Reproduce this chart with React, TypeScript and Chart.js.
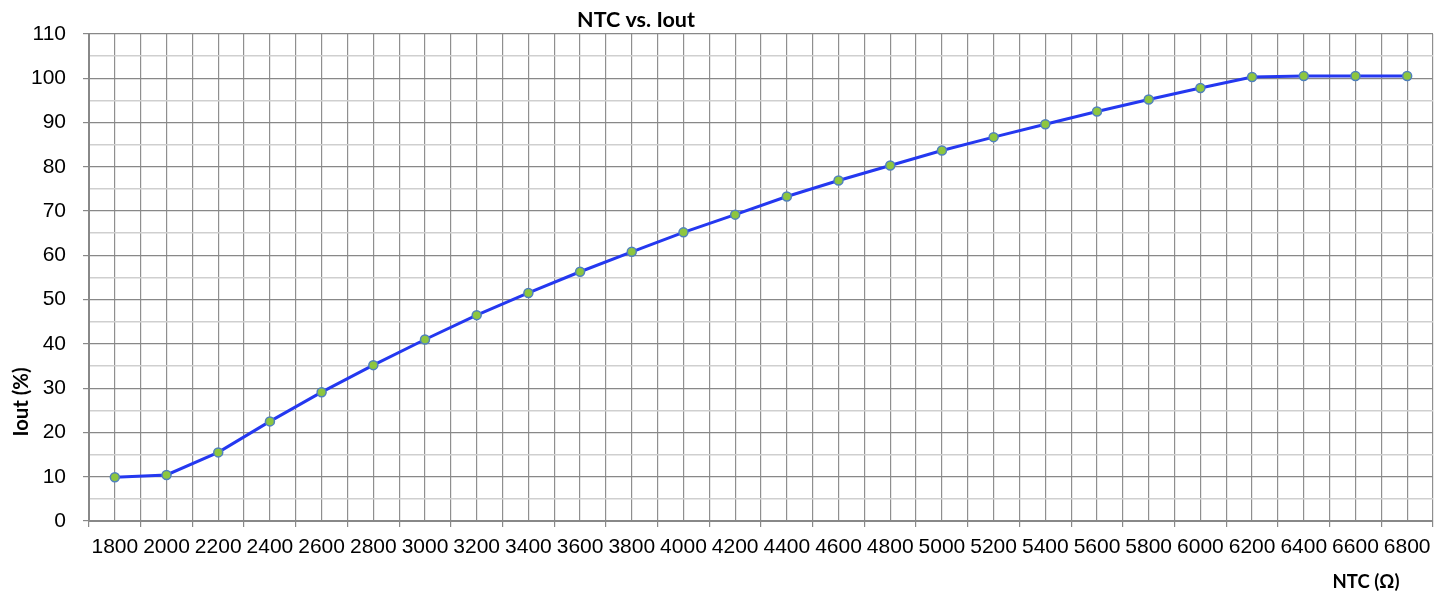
import React, { useEffect, useRef } from "react";
import { Chart, registerables } from "chart.js";

Chart.register(...registerables);

const ntcValues = [
  1800, 2000, 2200, 2400, 2600, 2800, 3000, 3200, 3400, 3600, 3800, 4000, 4200,
  4400, 4600, 4800, 5000, 5200, 5400, 5600, 5800, 6000, 6200, 6400, 6600, 6800,
];
const ioutValues = [
  9.9, 10.4, 15.5, 22.5, 29.1, 35.2, 41.0, 46.5, 51.5, 56.3, 60.8, 65.2, 69.2,
  73.3, 76.9, 80.3, 83.7, 86.7, 89.6, 92.5, 95.2, 97.8, 100.3, 100.5, 100.5, 100.5,
];
const xTickLabels = ntcValues.map((v) => String(v));
const yTickValues = [0, 10, 20, 30, 40, 50, 60, 70, 80, 90, 100, 110];
const yTickLabels = yTickValues.map((v) => String(v));

const chartTitle = "NTC vs. Iout";
const xAxisTitle = "NTC (\u03A9)";
const yAxisTitle = "Iout (%)";

const titleFont = "Lato, 'Open Sans', sans-serif";
const tickFont = "'Liberation Sans', Arial, sans-serif";

function fitText(ctx: any, text: string, targetWidth: number, maxSize: number) {
  ctx.font = `bold 20px ${titleFont}`;
  const w = ctx.measureText(text).width || targetWidth;
  const size = Math.min(maxSize, (20 * targetWidth) / w);
  ctx.font = `bold ${size}px ${titleFont}`;
}

const titlesPlugin = {
  id: "titlesPlugin",
  afterDraw(chart: any) {
    const ctx = chart.ctx;
    ctx.save();
    ctx.fillStyle = "#000";
    ctx.textAlign = "center";
    ctx.textBaseline = "middle";
    fitText(ctx, chartTitle, 118, 22);
    ctx.fillText(chartTitle, 636, 20);
    fitText(ctx, xAxisTitle, 67, 21);
    ctx.fillText(xAxisTitle, 1366, 582);
    fitText(ctx, yAxisTitle, 69, 21);
    ctx.translate(21, 402);
    ctx.rotate(-Math.PI / 2);
    ctx.fillText(yAxisTitle, 0, 0);
    ctx.restore();
  },
};

export default function App() {
  const canvasRef = useRef<HTMLCanvasElement | null>(null);

  useEffect(() => {
    const canvas = canvasRef.current;
    if (!canvas) return;
    const chart = new Chart(canvas, {
      type: "line",
      data: {
        datasets: [
          {
            label: "Iout",
            data: ntcValues.map((x, i) => ({ x, y: ioutValues[i] })),
            borderColor: "#2438F0",
            borderWidth: 3,
            pointRadius: 4.5,
            pointBackgroundColor: "#8DC63F",
            pointBorderColor: "#4F81BD",
            pointBorderWidth: 1.5,
            tension: 0,
            fill: false,
          },
        ],
      },
      options: {
        responsive: false,
        animation: false,
        layout: { padding: { left: 0, top: 34, right: 15, bottom: 0 } },
        plugins: {
          legend: { display: false },
          tooltip: { enabled: false },
          title: { display: false },
        },
        scales: {
          x: {
            type: "linear",
            min: 1700,
            max: 6900,
            afterFit: (scale: any) => {
              scale.height = 73;
            },
            ticks: {
              stepSize: 100,
              autoSkip: false,
              maxRotation: 0,
              minRotation: 0,
              padding: 8,
              color: "#000",
              font: { family: tickFont, size: 21 },
              callback: (v: any) => {
                const i = ntcValues.indexOf(Number(v));
                return i >= 0 ? xTickLabels[i] : "";
              },
            },
            grid: {
              color: "#8f8f8f",
              lineWidth: 1.2,
              tickLength: 6,
              tickColor: (c: any) =>
                c.tick && (c.tick.value - 1700) % 200 === 0 ? "#888888" : "rgba(0,0,0,0)",
            },
            border: { color: "#888888", width: 2 },
          },
          y: {
            type: "linear",
            min: 0,
            max: 110,
            afterFit: (scale: any) => {
              scale.width = 89;
            },
            ticks: {
              stepSize: 5,
              autoSkip: false,
              padding: 17,
              color: "#000",
              font: { family: tickFont, size: 21 },
              callback: (v: any) => {
                const i = yTickValues.indexOf(Number(v));
                return i >= 0 ? yTickLabels[i] : "";
              },
            },
            grid: {
              color: (c: any) =>
                c.tick && c.tick.value % 10 === 0 ? "#888888" : "#cfcfcf",
              lineWidth: (c: any) => (c.tick && c.tick.value % 10 === 0 ? 1.2 : 1.5),
              tickLength: 6,
              tickColor: (c: any) =>
                c.tick && c.tick.value % 10 === 0 ? "#888888" : "rgba(0,0,0,0)",
            },
            border: { color: "#888888", width: 2 },
          },
        },
      },
      plugins: [titlesPlugin],
    });
    return () => chart.destroy();
  }, []);

  return (
    <div style={{ position: "absolute", left: 0, top: 0, width: 1448, height: 594, background: "#fff" }}>
      <canvas ref={canvasRef} width={1448} height={594} style={{ display: "block" }} />
    </div>
  );
}
